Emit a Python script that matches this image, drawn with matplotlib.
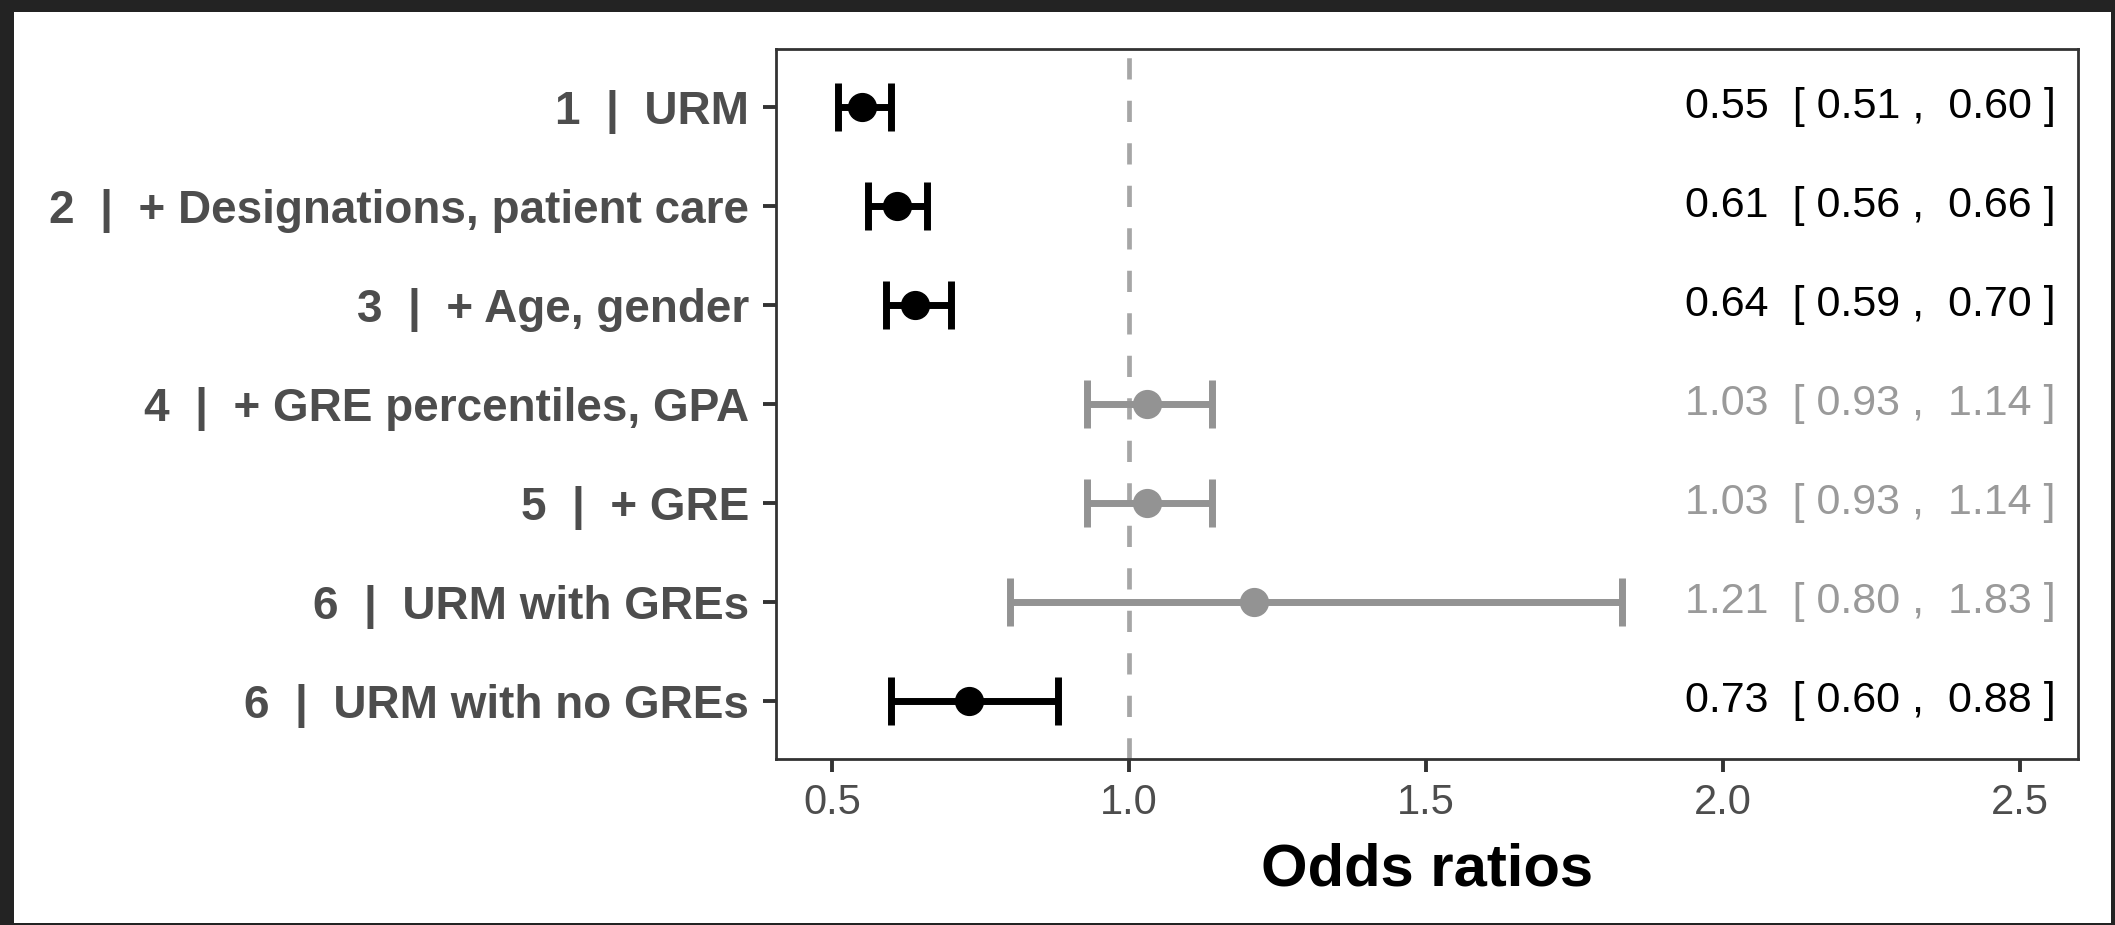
import matplotlib
matplotlib.use("Agg")
import matplotlib.pyplot as plt
from matplotlib.patches import Rectangle

# ---- data ----
labels = ["1  |  URM",
          "2  |  + Designations, patient care",
          "3  |  + Age, gender",
          "4  |  + GRE percentiles, GPA",
          "5  |  + GRE",
          "6  |  URM with GREs",
          "6  |  URM with no GREs"]
odds = [0.55, 0.61, 0.64, 1.03, 1.03, 1.21, 0.73]
lower = [0.51, 0.56, 0.59, 0.93, 0.93, 0.80, 0.60]
upper = [0.60, 0.66, 0.70, 1.14, 1.14, 1.83, 0.88]
xticks = [0.5, 1.0, 1.5, 2.0, 2.5]
xtick_labels = ["0.5", "1.0", "1.5", "2.0", "2.5"]

FONT = ["Liberation Sans", "DejaVu Sans"]
plt.rcParams["font.family"] = FONT

W, H = 2115, 925
fig = plt.figure(figsize=(W / 100, H / 100), dpi=100)
fig.patch.set_facecolor("#232323")
fig.add_artist(Rectangle((14 / W, 2 / H), (2111 - 14) / W, (923 - 12) / H,
                         transform=fig.transFigure, facecolor="white",
                         edgecolor="none", zorder=-1))

ax = fig.add_axes([776 / W, 1 - 759 / H, (2078 - 776) / W, (759 - 49) / H])
ax.set_facecolor("white")

BLACK = "#000000"
GREY = "#939393"
TXT_GREY = "#9A9A9A"

ax.axvline(1.0, color="#A6A6A6", linestyle=(0, (4.5, 4.5)), linewidth=3.4, zorder=1)

for i, (o, lo, hi) in enumerate(zip(odds, lower, upper)):
    sig = hi < 1 or lo > 1
    col = BLACK if sig else GREY
    tcol = BLACK if sig else TXT_GREY
    ax.errorbar([o], [i], xerr=[[o - lo], [hi - o]], fmt="o", color=col,
                markersize=20, elinewidth=5.0, capsize=17.5, capthick=5.0, zorder=3)
    ax.text(1.936, i, f"{o:.2f}  [ {lo:.2f} ,  {hi:.2f} ]", color=tcol,
            fontsize=31, ha="left", va="center", family=FONT)

ax.set_xlim(0.4056, 2.598)
ax.set_ylim(len(labels) - 1 + 0.59, -0.59)
ax.set_yticks(range(len(labels)))
ax.set_yticklabels(labels, fontsize=33, fontweight="bold", color="#4D4D4D")
ax.set_xticks(xticks)
ax.set_xticklabels(xtick_labels, fontsize=30, color="#4D4D4D")
ax.tick_params(axis="both", length=9.5, width=2.8, color="#333333")
ax.tick_params(axis="y", pad=10)
ax.tick_params(axis="x", pad=8)
for s in ax.spines.values():
    s.set_color("#333333")
    s.set_linewidth(2.0)

ax.set_xlabel("Odds ratios", fontsize=43, fontweight="bold", color="black", labelpad=14)

fig.savefig("out.png", dpi=100, facecolor=fig.get_facecolor())
